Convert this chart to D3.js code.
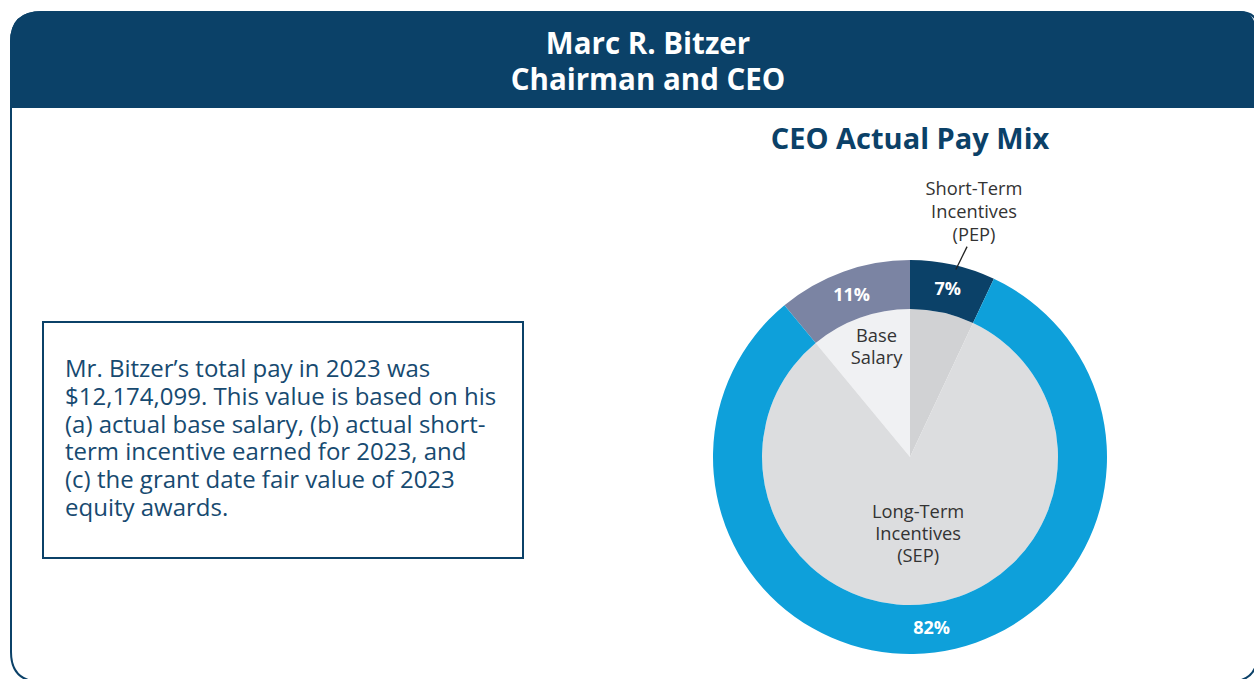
<!DOCTYPE html>
<html>
<head>
<meta charset="utf-8">
<script src="https://cdn.jsdelivr.net/npm/d3@7"></script>
<style>
  body { margin: 0; background: #fff; }
  svg { display: block; font-family: "Open Sans", sans-serif; }
</style>
</head>
<body>
<svg id="chart" width="1254" height="679"></svg>
<script>
// pay mix data
const categories = ["Base Salary", "Short-Term Incentives (PEP)", "Long-Term Incentives (SEP)"];
const shares = [11, 7, 82];
const outerColors = ["#7b84a3", "#0b4168", "#0ea0da"];
const innerColors = ["#f0f1f3", "#d1d2d4", "#dcdddf"];
const innerLabels = [["Base", "Salary"], [], ["Long-Term", "Incentives", "(SEP)"]];
const headerLines = ["Marc R. Bitzer", "Chairman and CEO"];
const noteLines = [
  "Mr. Bitzer\u2019s total pay in 2023 was",
  "$12,174,099. This value is based on his",
  "(a) actual base salary, (b) actual short-",
  "term incentive earned for 2023, and",
  "(c) the grant date fair value of 2023",
  "equity awards."
];
const sliceLabels = ["Short-Term", "Incentives", "(PEP)"];

const svg = d3.select("#chart");
const navy = "#0b4168";

// card frame (right and bottom edges run off the page)
svg.append("path")
  .attr("d", "M11,42 Q11,12 42,12 L1240,12 Q1258,12 1258,30 L1258,652 Q1258,682 1228,682 L42,682 Q11,682 11,652 Z")
  .attr("fill", "#fff").attr("stroke", navy).attr("stroke-width", 2);
svg.append("path")
  .attr("d", "M10,42 Q10,11 42,11 L1238,11 Q1255,11 1255,28 L1255,108 L10,108 Z")
  .attr("fill", navy);

svg.append("text")
  .attr("text-anchor", "middle").attr("fill", "#fff")
  .attr("font-size", 29.5).attr("font-weight", 700)
  .selectAll("tspan").data(headerLines).enter().append("tspan")
  .attr("x", 648).attr("y", (d, i) => 54 + i * 36)
  .text(d => d);

// note box
svg.append("rect").attr("x", 43).attr("y", 322).attr("width", 480).attr("height", 236)
  .attr("fill", "none").attr("stroke", navy).attr("stroke-width", 2);
svg.append("text")
  .attr("fill", "#174a70").attr("font-size", 24)
  .selectAll("tspan").data(noteLines).enter().append("tspan")
  .attr("x", 65).attr("y", (d, i) => 377 + i * 27.8)
  .text(d => d);

// donut
const cx = 910, cy = 457, rOut = 197, rIn = 148;
svg.append("text").attr("x", cx).attr("y", 149).attr("text-anchor", "middle")
  .attr("fill", navy).attr("font-size", 29).attr("font-weight", 700)
  .text("CEO Actual Pay Mix");

const total = d3.sum(shares);
const start = -2 * Math.PI * shares[0] / total;
const pie = d3.pie().sort(null).startAngle(start).endAngle(start + 2 * Math.PI);
const arcs = pie(shares);
const g = svg.append("g").attr("transform", `translate(${cx},${cy})`);

const ring = d3.arc().innerRadius(rIn).outerRadius(rOut);
const core = d3.arc().innerRadius(0).outerRadius(rIn);

g.selectAll("path.core").data(arcs).enter().append("path")
  .attr("class", "core").attr("d", core)
  .attr("fill", (d, i) => innerColors[i]);
g.selectAll("path.ring").data(arcs).enter().append("path")
  .attr("class", "ring").attr("d", ring)
  .attr("fill", (d, i) => outerColors[i]);

g.selectAll("text.pct").data(arcs).enter().append("text")
  .attr("class", "pct")
  .attr("transform", d => `translate(${ring.centroid(d)})`)
  .attr("dy", "0.35em").attr("text-anchor", "middle")
  .attr("fill", "#fff").attr("font-size", 18).attr("font-weight", 700)
  .text(d => d.data + "%");

// inner labels, placed along slice mid-angles
const labelRadius = [115, 0, 77];
const angleShift = [0.05, 0, 0.02];
arcs.forEach((d, i) => {
  if (!innerLabels[i].length) return;
  const a = (d.startAngle + d.endAngle) / 2 + angleShift[i];
  const x = Math.sin(a) * labelRadius[i], y = -Math.cos(a) * labelRadius[i];
  const n = innerLabels[i].length;
  g.append("text").attr("text-anchor", "middle").attr("fill", "#333")
    .attr("font-size", 18.3)
    .selectAll("tspan").data(innerLabels[i]).enter().append("tspan")
    .attr("x", x).attr("y", (t, j) => y + (j - (n - 1) / 2) * 22 + 6)
    .text(t => t);
});

// callout for short-term slice
const sti = arcs[1];
const aMid = (sti.startAngle + sti.endAngle) / 2;
const polar = (a, r) => [Math.sin(a) * r, -Math.cos(a) * r];
const p1 = polar(aMid + 0.02, rOut - 4);
const p2 = polar(aMid + 0.045, rOut + 21);
g.append("line").attr("x1", p1[0]).attr("y1", p1[1]).attr("x2", p2[0]).attr("y2", p2[1])
  .attr("stroke", "#222").attr("stroke-width", 1.3);
svg.append("text").attr("text-anchor", "middle").attr("fill", "#333").attr("font-size", 18.3)
  .selectAll("tspan").data(sliceLabels).enter().append("tspan")
  .attr("x", 974).attr("y", (t, j) => 195 + j * 23)
  .text(t => t);
</script>
</body>
</html>
